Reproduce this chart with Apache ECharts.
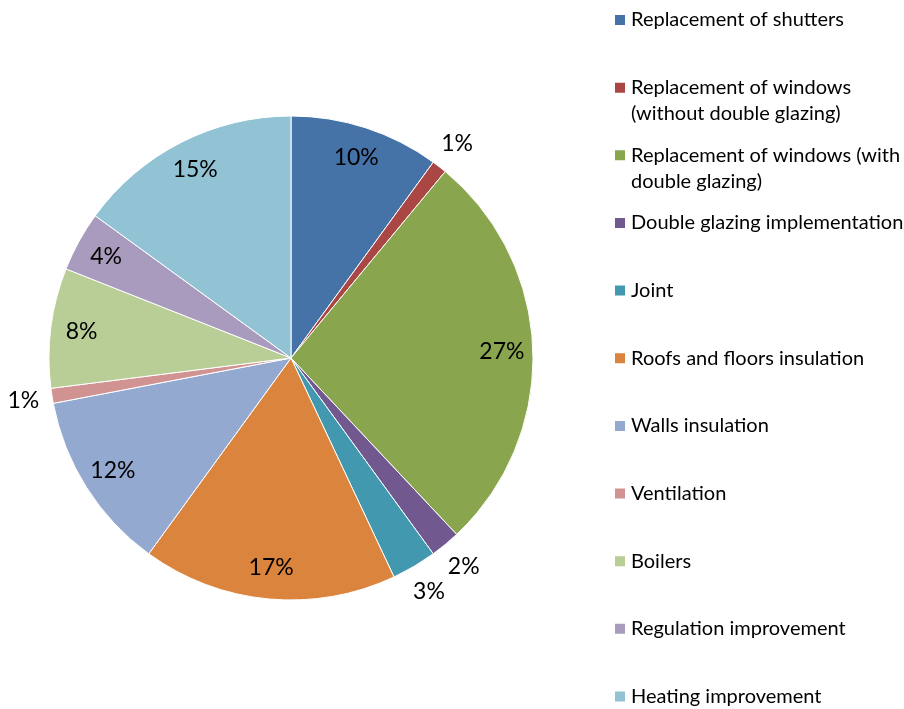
<!DOCTYPE html>
<html>
<head>
<meta charset="utf-8">
<script src="https://cdn.jsdelivr.net/npm/echarts@6/dist/echarts.min.js"></script>
<style>
  html, body { margin: 0; padding: 0; background: #ffffff; }
  #chart { width: 904px; height: 709px; }
</style>
</head>
<body>
<div id="chart"></div>
<script>
// Share of renovation works by type (%)
const categories = [
  'Replacement of shutters',
  'Replacement of windows\n(without double glazing)',
  'Replacement of windows (with\ndouble glazing)',
  'Double glazing implementation',
  'Joint',
  'Roofs and floors insulation',
  'Walls insulation',
  'Ventilation',
  'Boilers',
  'Regulation improvement',
  'Heating improvement'
];
const shares = [10, 1, 27, 2, 3, 17, 12, 1, 8, 4, 15];
// small slices get their label outside the pie
const outsideLabel = [false, true, false, true, true, false, false, true, false, false, false];
const colors = ['#4572A7', '#AA4643', '#89A54E', '#71588F', '#4198AF', '#DB843D',
                '#93A9CF', '#D19392', '#B9CD96', '#A99BBD', '#92C3D5'];

const FONT = 'Lato';
const center = [291, 358];
const R = 242;

const chart = echarts.init(document.getElementById('chart'), null, { renderer: 'canvas' });

// One legend block per entry so that the rows keep an even pitch.
// Wrapped names get a blank leading line so the swatch sits on the first line.
const firstIconCenter = 19.5;
const rowPitch = 67.65;
const legends = categories.map(function (name, i) {
  const twoLines = name.indexOf('\n') >= 0;
  return {
    orient: 'vertical',
    left: 613,
    top: firstIconCenter + i * rowPitch - 6 - (twoLines ? 39 : 13) + 6.5,
    padding: 0,
    itemWidth: 12,
    itemHeight: 12,
    itemGap: 0,
    icon: 'rect',
    selectedMode: false,
    data: [name],
    formatter: function (n) { return n.indexOf('\n') >= 0 ? ' \n' + n : n; },
    textStyle: {
      fontFamily: FONT,
      fontSize: 20,
      color: '#000000',
      lineHeight: 26
    }
  };
});

// Transparent ring used only to place labels at a given radius
function labelRing(inner, outer, showOutside) {
  return {
    type: 'pie',
    center: center,
    radius: [inner, outer],
    silent: true,
    animation: false,
    legendHoverLink: false,
    itemStyle: { color: 'rgba(0,0,0,0)' },
    emphasis: { disabled: true },
    tooltip: { show: false },
    labelLine: { show: false },
    data: shares.map(function (v, i) {
      return {
        name: categories[i],
        value: v,
        label: {
          show: outsideLabel[i] === showOutside,
          position: 'inside',
          formatter: v + '%',
          fontFamily: FONT,
          fontSize: 23,
          color: '#000000'
        }
      };
    })
  };
}

chart.setOption({
  animation: false,
  color: colors,
  legend: legends,
  series: [
    {
      type: 'pie',
      center: center,
      radius: [0, R],
      startAngle: 90,
      clockwise: true,
      animation: false,
      label: { show: false },
      labelLine: { show: false },
      itemStyle: { borderColor: '#ffffff', borderWidth: 1 },
      emphasis: { disabled: true },
      data: shares.map(function (v, i) {
        return { name: categories[i], value: v };
      })
    },
    labelRing(200, 216, false),
    labelRing(260, 276, true)
  ]
});
</script>
</body>
</html>
